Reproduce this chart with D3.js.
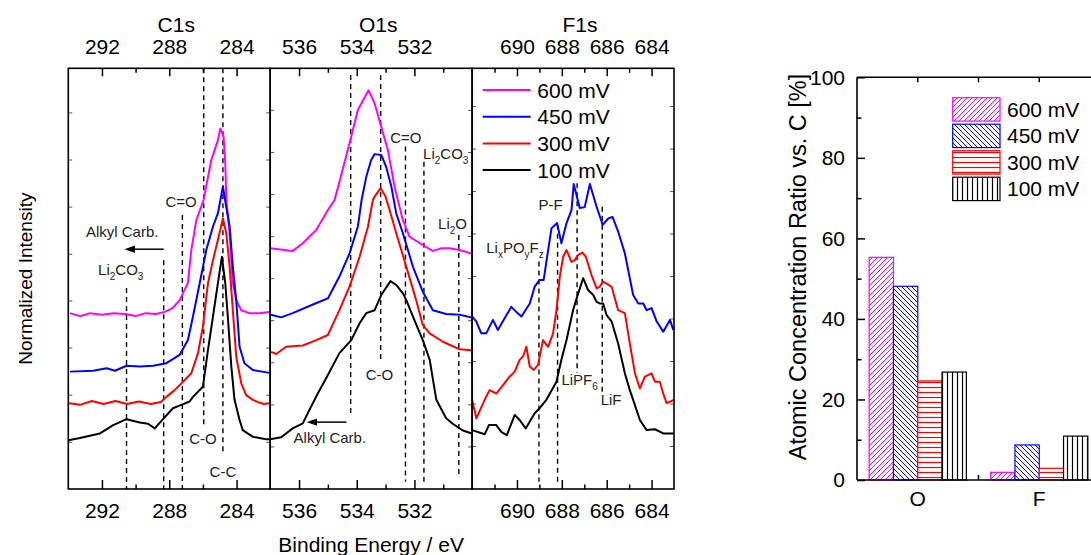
<!DOCTYPE html>
<html><head><meta charset="utf-8">
<script src="https://cdn.jsdelivr.net/npm/d3@7"></script>
<style>
body{margin:0;background:#fff;}
svg text{font-family:"Liberation Sans",Arial,sans-serif;fill:#000;}
</style></head>
<body><svg id="chart" width="1091" height="555"></svg>
<script>
// ---------------- DATA ----------------
const seriesNames = ["600 mV","450 mV","300 mV","100 mV"];
const seriesColors = ["#ff00ff","#0000ff","#ff0000","#000000"];

// Panels (binding energy ranges, reversed)
const panelNames = ["C1s","O1s","F1s"];
const panelDomains = [[294,282],[537,530],[692,683]];
const panelMajorTicks = [[292,288,284],[536,534,532],[690,688,686,684]];
const panelMinorTicks = [[290,286],[535,533,531],[691,689,687,685]];

// Curves: [binding energy (eV), normalized intensity (a.u., offset)]
const c1s_600 = [[293.9,4.18],[293.3,4.11],[292.7,4.18],[292.0,4.14],[291.3,4.18],[290.6,4.16],[290.0,4.11],[289.4,4.18],[288.8,4.16],[288.27,4.21],[287.8,4.30],[287.38,4.49],[286.89,4.90],[286.69,5.68],[286.39,6.39],[285.96,6.87],[285.5,7.82],[285.3,8.06],[285.1,8.30],[284.97,8.57],[284.77,8.37],[284.67,7.75],[284.61,6.87],[284.41,6.09],[284.22,4.90],[284.02,4.49],[283.72,4.25],[283.23,4.18],[282.64,4.18],[282.04,4.21]];
const c1s_450 = [[293.9,2.79],[292.52,2.81],[291.72,2.87],[291.23,2.81],[290.54,2.93],[289.75,2.91],[288.96,2.93],[288.17,2.99],[287.38,3.19],[286.89,3.54],[286.59,4.10],[286.19,4.89],[285.80,5.68],[285.40,6.24],[285.11,6.55],[284.81,7.19],[284.65,6.79],[284.41,6.24],[284.22,5.28],[284.02,4.49],[283.82,3.38],[283.53,2.99],[283.03,2.83],[282.04,2.76]];
const c1s_300 = [[293.95,2.04],[293.3,2.00],[292.6,2.09],[291.9,2.02],[291.2,2.09],[290.5,2.02],[289.8,2.08],[289.1,2.02],[288.5,2.07],[288.17,2.19],[287.68,2.35],[287.18,2.55],[286.69,2.75],[286.29,3.23],[286.0,3.86],[285.70,4.89],[285.40,5.44],[285.11,5.92],[284.81,6.43],[284.61,6.08],[284.41,5.28],[284.22,4.25],[284.02,3.15],[283.72,2.51],[283.43,2.23],[283.03,2.12],[282.75,2.07],[282.40,2.02],[282.04,2.04]];
const c1s_100 = [[294.0,1.16],[293.31,1.21],[292.12,1.32],[291.33,1.52],[290.54,1.66],[289.75,1.58],[289.26,1.55],[288.86,1.44],[288.37,1.66],[287.78,1.92],[287.28,2.00],[286.79,2.08],[286.59,2.19],[286.0,2.43],[285.70,3.30],[285.40,4.10],[285.11,4.89],[284.87,5.52],[284.67,4.89],[284.52,4.10],[284.31,2.91],[284.12,2.12],[283.82,1.64],[283.63,1.40],[283.03,1.24],[282.24,1.18],[282.04,1.18]];

const o1s_600 = [[536.99,5.72],[536.22,5.66],[535.87,5.84],[535.40,6.16],[535.0,6.63],[534.77,6.87],[534.60,7.30],[534.25,8.22],[533.96,9.01],[533.59,9.48],[533.38,9.17],[533.15,8.61],[532.92,8.06],[532.69,7.19],[532.40,6.39],[532.17,6.00],[531.71,5.80],[531.36,5.66],[531.07,5.72],[530.78,5.72],[530.44,5.68],[530.03,5.60]];
const o1s_450 = [[536.97,4.14],[536.62,4.08],[536.22,4.18],[535.64,4.35],[535.29,4.45],[535.0,4.53],[534.60,5.05],[534.25,5.60],[533.96,6.24],[533.83,6.87],[533.67,7.42],[533.50,7.82],[533.38,7.96],[533.15,7.94],[532.98,7.66],[532.80,7.19],[532.63,6.55],[532.40,6.08],[532.05,5.28],[531.71,4.69],[531.36,4.25],[530.90,4.16],[530.43,4.14],[530.03,4.08]];
const o1s_300 = [[536.97,3.26],[536.79,3.21],[536.45,3.38],[535.87,3.41],[535.40,3.54],[535.0,3.66],[534.60,4.25],[534.25,4.81],[533.90,5.52],[533.61,6.24],[533.44,6.87],[533.38,6.95],[533.17,7.15],[533.0,6.95],[532.86,6.63],[532.63,6.08],[532.28,5.28],[531.94,4.49],[531.71,3.90],[531.47,3.70],[531.01,3.50],[530.43,3.32],[530.03,3.30]];
const o1s_100 = [[537.0,1.18],[536.62,1.23],[536.45,1.32],[536.22,1.44],[535.87,1.56],[535.64,1.88],[535.46,2.12],[535.35,2.27],[535.06,2.63],[534.60,3.23],[534.19,3.54],[533.90,3.94],[533.67,4.18],[533.38,4.25],[533.15,4.61],[532.83,4.94],[532.63,4.85],[532.40,4.65],[532.28,4.49],[532.05,4.10],[531.71,3.54],[531.47,3.07],[531.24,2.12],[530.90,1.68],[530.67,1.55],[530.32,1.39],[530.01,1.32]];

const f1s_450 = [[691.99,4.10],[691.81,3.98],[691.59,3.70],[691.37,3.70],[691.07,4.02],[690.85,3.78],[690.55,4.06],[690.25,4.33],[690.03,4.21],[689.80,4.10],[689.43,4.41],[689.21,4.81],[688.99,4.97],[688.81,4.97],[688.61,5.68],[688.46,6.20],[688.21,6.32],[688.02,5.84],[687.79,6.32],[687.57,6.63],[687.47,7.25],[687.20,6.68],[686.98,6.70],[686.75,7.25],[686.45,6.71],[686.18,6.28],[685.93,6.43],[685.74,6.47],[685.49,6.12],[685.19,5.60],[684.82,4.61],[684.59,4.41],[684.37,4.41],[684.22,4.25],[684.0,4.30],[683.77,3.98],[683.48,3.74],[683.18,4.02],[683.03,3.78]];
const f1s_300 = [[692.0,2.12],[691.81,1.68],[691.44,2.12],[691.22,2.35],[690.92,2.27],[690.62,2.47],[690.33,2.67],[690.10,2.79],[689.88,3.07],[689.73,3.15],[689.58,3.38],[689.43,2.91],[689.25,2.83],[689.06,2.95],[688.84,3.54],[688.61,3.38],[688.39,3.70],[688.24,4.25],[688.09,5.05],[687.94,5.52],[687.79,5.68],[687.57,5.40],[687.42,5.44],[687.28,5.56],[687.08,5.62],[686.93,5.52],[686.68,5.09],[686.45,4.77],[686.31,4.81],[686.16,4.93],[685.78,4.81],[685.49,4.25],[685.19,4.18],[684.97,3.46],[684.74,2.75],[684.52,2.39],[684.30,2.67],[684.0,2.75],[683.85,2.55],[683.63,2.55],[683.48,2.27],[683.33,2.04],[683.0,2.12]];
const f1s_100 = [[692.0,1.40],[691.44,1.30],[691.25,1.52],[690.92,1.52],[690.70,1.36],[690.45,1.28],[690.10,1.76],[689.88,1.64],[689.61,1.44],[689.21,1.80],[688.99,1.92],[688.69,2.12],[688.24,2.55],[688.02,3.07],[687.79,3.54],[687.50,4.25],[687.27,4.65],[687.05,5.01],[686.83,4.73],[686.60,4.61],[686.45,4.45],[686.31,4.41],[686.16,4.41],[686.01,4.14],[685.78,3.98],[685.49,3.46],[685.19,2.75],[684.97,2.35],[684.82,2.12],[684.52,1.64],[684.22,1.40],[683.85,1.42],[683.48,1.32],[682.99,1.32]];

// reference lines: [energy, intensity top, intensity bottom]
const c1s_lines = [[290.54,4.78,0],[288.33,5.44,0],[287.22,6.51,0],[285.95,10,1.48],[284.81,10,0.81]];
const o1s_lines = [[534.21,9.84,1.76],[533.17,9.84,3.07],[532.31,8.14,0.17],[531.67,7.78,0.17],[530.46,6.04,0.33]];
const f1s_lines = [[689.02,5.41,0.17],[688.19,6.28,0.17],[687.32,7.27,2.76],[686.20,6.71,2.27]];

// annotations: [energy, intensity, anchor, text parts]
const c1s_notes = [[292.23,5.09,"start",[["Li",""],["2","sub"],["CO",""],["3","sub"]]],[292.95,5.99,"start",[["Alkyl Carb.",""]]],[287.3,6.70,"middle",[["C=O",""]]],[286.0,1.08,"middle",[["C-O",""]]],[284.81,0.28,"middle",[["C-C",""]]]];
const o1s_notes = [[532.30,8.22,"middle",[["C=O",""]]],[531.70,7.84,"start",[["Li",""],["2","sub"],["CO",""],["3","sub"]]],[531.18,6.17,"start",[["Li",""],["2","sub"],["O",""]]],[533.21,2.59,"middle",[["C-O",""]]],[536.19,1.09,"start",[["Alkyl Carb.",""]]]];
const f1s_notes = [[691.37,5.60,"start",[["Li",""],["x","sub"],["PO",""],["y","sub"],["F",""],["z","sub"]]],[688.50,6.63,"middle",[["P-F",""]]],[688.02,2.47,"start",[["LiPF",""],["6","sub"]]],[686.27,2.00,"start",[["LiF",""]]]];
// arrows: [from energy, to energy, intensity]
const c1s_arrows = [[288.33,290.1,5.70]];
const o1s_arrows = [[534.36,535.40,1.59]];

// Bar chart
const elements = ["O","F"];
const ratio600 = [55.3, 1.9];
const ratio450 = [48.1, 8.7];
const ratio300 = [24.6, 2.9];
const ratio100 = [26.8, 10.9];
const barTicks = [0,20,40,60,80,100];

// ---------------- DRAW ----------------
const svg = d3.select("#chart");
const FONT = 21;
const pTop = 68.3, pBottom = 489, pLeft = 68.3, pw = 201.9;
const y = d3.scaleLinear().domain([0,10]).range([pBottom, pTop]);

const curves = [
  [c1s_600,c1s_450,c1s_300,c1s_100],
  [o1s_600,o1s_450,o1s_300,o1s_100],
  [null,f1s_450,f1s_300,f1s_100]
];
const linesAll = [c1s_lines,o1s_lines,f1s_lines];
const notesAll = [c1s_notes,o1s_notes,f1s_notes];
const arrowsAll = [c1s_arrows,o1s_arrows,[]];
const yMinor = [[1.11,2.23,3.35,4.47,5.58,6.70,7.82,8.94],[1.0,2.0,3.0,4.0,5.0,6.0,7.0,8.0,9.0],[1.01,2.02,3.03,4.04,5.05,6.06,7.07,8.08,9.09]];

const defs = svg.append("defs");
defs.append("marker").attr("id","arrowhead").attr("viewBox","0 0 10 10").attr("refX",1).attr("refY",5)
  .attr("markerWidth",7).attr("markerHeight",7).attr("orient","auto")
  .append("path").attr("d","M0,1.5 L10,5 L0,8.5 Z").attr("fill","#000");

panelNames.forEach((name,i)=>{
  const x0 = pLeft + i*pw, x1 = x0+pw;
  const x = d3.scaleLinear().domain(panelDomains[i]).range([x0,x1]);
  const g = svg.append("g");
  const clipId = "clip"+i;
  defs.append("clipPath").attr("id",clipId).append("rect").attr("x",x0).attr("y",pTop).attr("width",pw).attr("height",pBottom-pTop);

  g.selectAll(".ref").data(linesAll[i]).join("line")
    .attr("x1",d=>x(d[0])).attr("x2",d=>x(d[0])).attr("y1",d=>y(d[1])).attr("y2",d=>y(d[2]))
    .attr("stroke","#000").attr("stroke-width",1.4).attr("stroke-dasharray","5,4");

  const line = d3.line().x(d=>x(d[0])).y(d=>y(d[1]));
  curves[i].forEach((c,k)=>{
    if(!c) return;
    g.append("path").attr("d",line(c)).attr("fill","none").attr("stroke",seriesColors[k])
      .attr("stroke-width",2).attr("stroke-linejoin","round").attr("clip-path",`url(#${clipId})`);
  });

  notesAll[i].forEach(n=>{
    const t = g.append("text").attr("x",x(n[0])).attr("y",y(n[1])).attr("text-anchor",n[2]).attr("font-size",15).style("fill","#222");
    let shifted=false;
    n[3].forEach(p=>{
      const ts = t.append("tspan").text(p[0]);
      if(p[1]==="sub"){ ts.attr("font-size",10); if(!shifted){ts.attr("dy",5);} shifted=true; }
      else { if(shifted){ ts.attr("dy",-5); shifted=false; } }
    });
  });
  arrowsAll[i].forEach(a=>{
    g.append("line").attr("x1",x(a[0])).attr("x2",x(a[1])).attr("y1",y(a[2])).attr("y2",y(a[2]))
      .attr("stroke","#000").attr("stroke-width",1.5).attr("marker-end","url(#arrowhead)");
  });

  const axB = d3.axisBottom(x).tickValues(panelMajorTicks[i]).tickSize(-9).tickFormat(d3.format("d")).tickPadding(14);
  const axT = d3.axisTop(x).tickValues(panelMajorTicks[i]).tickSize(-8).tickFormat(d3.format("d")).tickPadding(14);
  const gb = svg.append("g").attr("transform",`translate(0,${pBottom})`).call(axB);
  const gt = svg.append("g").attr("transform",`translate(0,${pTop})`).call(axT);
  [gb,gt].forEach(a=>{
    a.select(".domain").remove();
    a.selectAll(".tick line").attr("stroke","#000").attr("stroke-width",1.5);
    a.selectAll(".tick text").attr("font-size",FONT).attr("font-family","Liberation Sans, Arial, sans-serif").style("fill","#000");
  });
  const mB = d3.axisBottom(x).tickValues(panelMinorTicks[i]).tickSize(-4.5).tickFormat("");
  const mT = d3.axisTop(x).tickValues(panelMinorTicks[i]).tickSize(-4.5).tickFormat("");
  [svg.append("g").attr("transform",`translate(0,${pBottom})`).call(mB),
   svg.append("g").attr("transform",`translate(0,${pTop})`).call(mT)].forEach(a=>{
    a.select(".domain").remove(); a.selectAll(".tick line").attr("stroke","#000").attr("stroke-width",1.5);
  });
  yMinor[i].forEach(v=>{
    svg.append("line").attr("x1",x0).attr("x2",x0+4).attr("y1",y(v)).attr("y2",y(v)).attr("stroke","#555").attr("stroke-width",1);
    svg.append("line").attr("x1",x1-4).attr("x2",x1).attr("y1",y(v)).attr("y2",y(v)).attr("stroke","#555").attr("stroke-width",1);
  });
  svg.append("rect").attr("x",x0).attr("y",pTop).attr("width",pw).attr("height",pBottom-pTop)
    .attr("fill","none").attr("stroke","#000").attr("stroke-width",1.6);
  svg.append("text").attr("x",(x0+x1)/2+7).attr("y",32.3).attr("text-anchor","middle").attr("font-size",FONT).text(name);
});

// left chart legend
const lg = svg.append("g");
seriesNames.forEach((s,k)=>{
  const ly = 90 + k*26.7;
  lg.append("line").attr("x1",482.7).attr("x2",530.7).attr("y1",ly).attr("y2",ly).attr("stroke",seriesColors[k]).attr("stroke-width",2);
  lg.append("text").attr("x",537.3).attr("y",ly+7.5).attr("font-size",FONT).text(s);
});

svg.append("text").attr("x",(pLeft+pLeft+3*pw)/2).attr("y",552).attr("text-anchor","middle").attr("font-size",FONT).text("Binding Energy / eV");
svg.append("text").attr("transform",`translate(32,${(pTop+pBottom)/2}) rotate(-90)`).attr("text-anchor","middle").attr("font-size",19).text("Normalized Intensity");

// ---------------- BAR CHART ----------------
const bTop = 77.3, bBottom = 480, bLeft = 857, bRight = 1100;
const by = d3.scaleLinear().domain([0,100]).range([bBottom,bTop]);
const bx = d3.scaleBand().domain(elements).range([bLeft,bRight]).paddingInner(0.2).paddingOuter(0.1);
const sub = d3.scaleBand().domain(seriesNames).range([0,bx.bandwidth()]);
const barSeries = [ratio600,ratio450,ratio300,ratio100];

const pat = (id,color,draw)=>{
  const p = defs.append("pattern").attr("id",id).attr("patternUnits","userSpaceOnUse").attr("width",5).attr("height",5);
  p.append("rect").attr("width",5).attr("height",5).attr("fill","#fff");
  draw(p.append("path").attr("stroke",color).attr("stroke-width",1).attr("fill","none"));
};
pat("p600","#ff00ff",p=>p.attr("d","M-1,6 L6,-1 M-1,1 L1,-1 M4,6 L6,4"));
pat("p450","#0000ff",p=>p.attr("d","M-1,-1 L6,6 M4,-1 L6,1 M-1,4 L1,6"));
pat("p300","#ff0000",p=>p.attr("d","M0,2.5 L5,2.5").attr("stroke-width",1.2));
pat("p100","#000000",p=>p.attr("d","M2.5,0 L2.5,5").attr("stroke-width",1.2));
const patIds = ["p600","p450","p300","p100"];

const bg = svg.append("g");
barSeries.forEach((vals,k)=>{
  bg.selectAll(".b"+k).data(vals).join("rect")
    .attr("x",(d,i)=>bx(elements[i])+sub(seriesNames[k]))
    .attr("y",d=>by(d)).attr("width",sub.bandwidth()).attr("height",d=>by(0)-by(d))
    .attr("fill",`url(#${patIds[k]})`).attr("stroke",seriesColors[k]).attr("stroke-width",1.2);
});

const ay = d3.axisLeft(by).tickValues(barTicks).tickSize(-8).tickPadding(12).tickFormat(d3.format("d"));
const gay = svg.append("g").attr("transform",`translate(${bLeft},0)`).call(ay);
gay.select(".domain").remove();
gay.selectAll(".tick line").attr("stroke","#000").attr("stroke-width",1.5);
gay.selectAll(".tick text").attr("font-size",FONT).attr("font-family","Liberation Sans, Arial, sans-serif").style("fill","#000");
const ayM = d3.axisLeft(by).tickValues([10,30,50,70,90]).tickSize(-4.5).tickFormat("");
const gaym = svg.append("g").attr("transform",`translate(${bLeft},0)`).call(ayM);
gaym.select(".domain").remove(); gaym.selectAll(".tick line").attr("stroke","#000").attr("stroke-width",1.5);

const centers = elements.map(e=>bx(e)+bx.bandwidth()/2);
const midTick = [(centers[0]+centers[1])/2];
svg.selectAll(".topt").data(centers.concat(midTick)).join("line")
  .attr("x1",d=>d).attr("x2",d=>d).attr("y1",bTop).attr("y2",bTop+5).attr("stroke","#000").attr("stroke-width",1.5);
svg.selectAll(".bott").data(midTick).join("line")
  .attr("x1",d=>d).attr("x2",d=>d).attr("y1",bBottom).attr("y2",bBottom-5).attr("stroke","#000").attr("stroke-width",1.5);
svg.selectAll(".xl").data(elements).join("text").attr("x",e=>bx(e)+bx.bandwidth()/2).attr("y",505.7)
  .attr("text-anchor","middle").attr("font-size",FONT).text(d=>d);

svg.append("line").attr("x1",bLeft).attr("x2",bLeft).attr("y1",bTop).attr("y2",bBottom).attr("stroke","#000").attr("stroke-width",1.6);
svg.append("line").attr("x1",bLeft).attr("x2",bRight).attr("y1",bTop).attr("y2",bTop).attr("stroke","#000").attr("stroke-width",1.6);
svg.append("line").attr("x1",bLeft).attr("x2",bRight).attr("y1",bBottom).attr("y2",bBottom).attr("stroke","#000").attr("stroke-width",1.6);

svg.append("text").attr("transform",`translate(806,267) rotate(-90)`).attr("text-anchor","middle").attr("font-size",23.5).text("Atomic Concentration Ratio vs. C [%]");

seriesNames.forEach((s,k)=>{
  const ly = 97.7 + k*26.5;
  svg.append("rect").attr("x",952.7).attr("y",ly).attr("width",47.3).attr("height",23.4)
    .attr("fill",`url(#${patIds[k]})`).attr("stroke",seriesColors[k]).attr("stroke-width",1.2);
  svg.append("text").attr("x",1007).attr("y",ly+19).attr("font-size",FONT).text(s);
});
</script></body></html>
